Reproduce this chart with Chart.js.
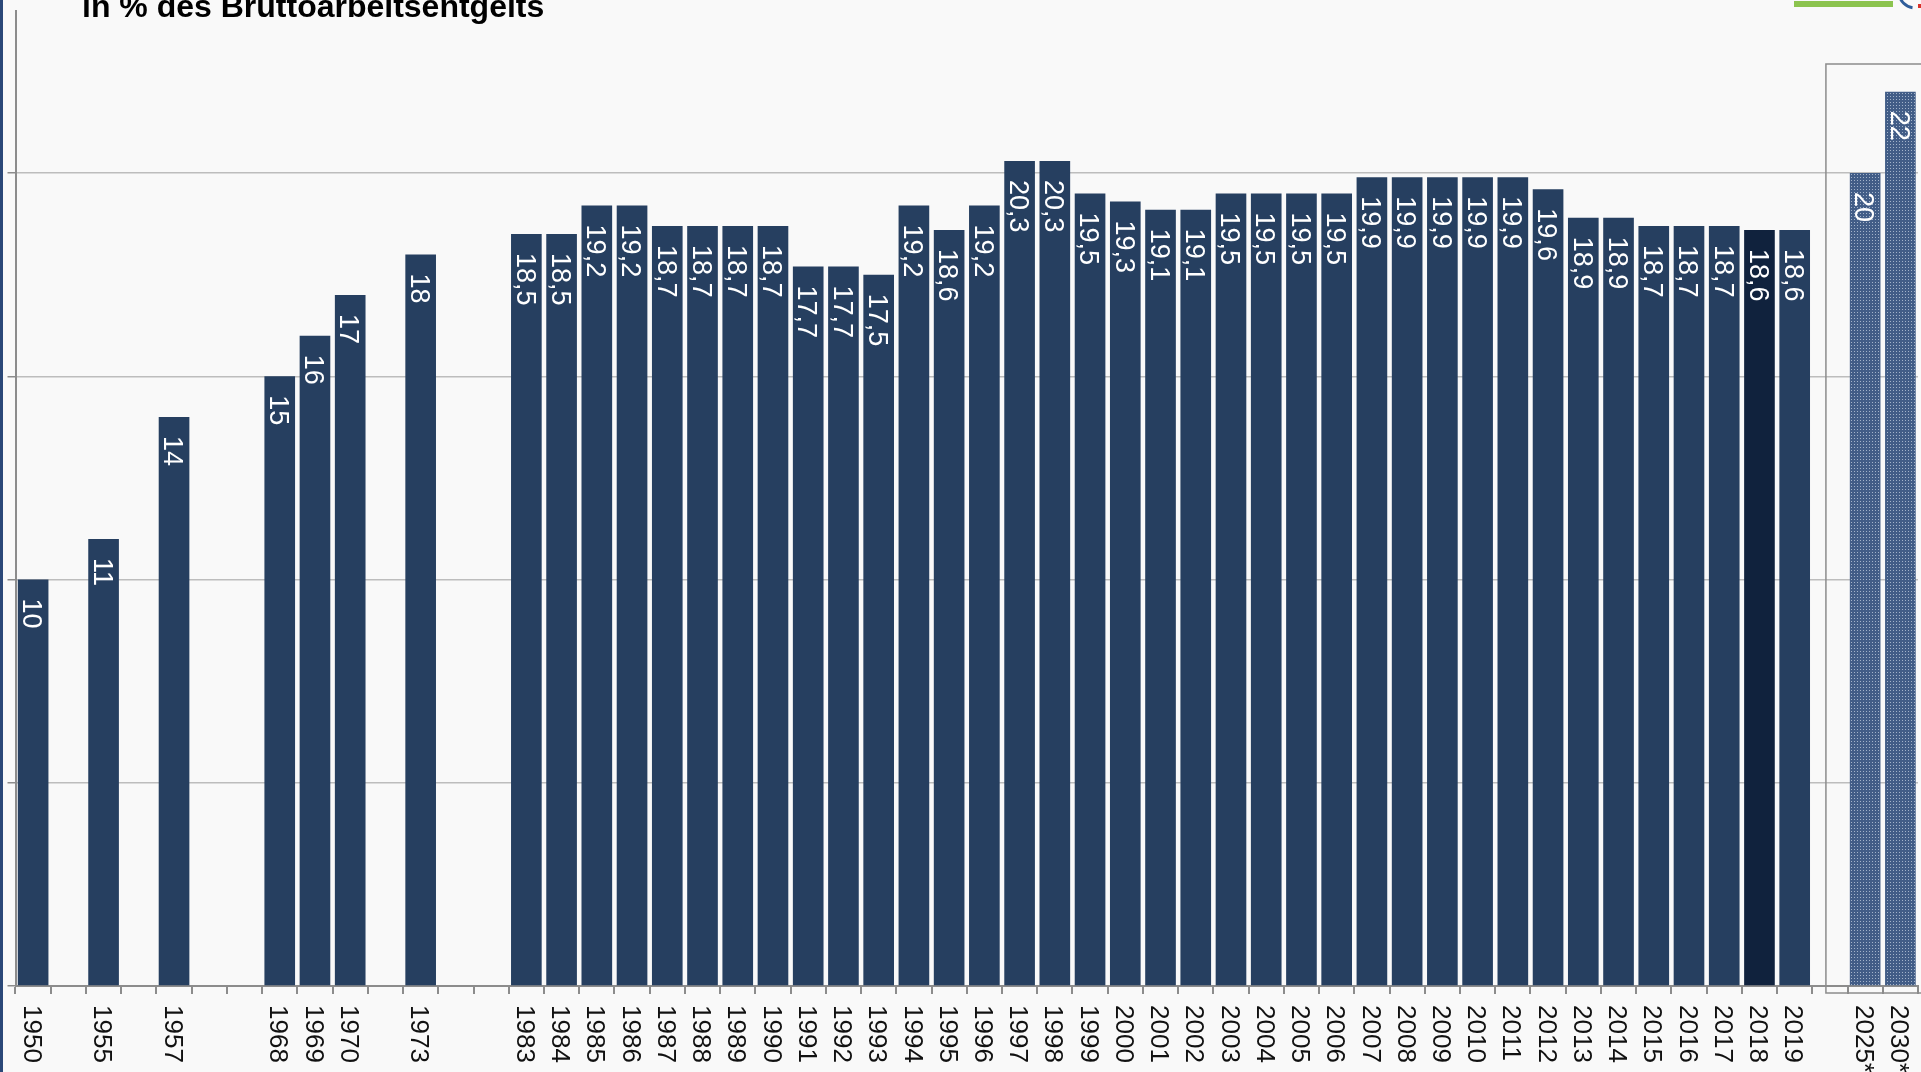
<!DOCTYPE html>
<html lang="de">
<head>
<meta charset="UTF-8">
<title>Beitragssatz Rentenversicherung</title>
<script src="https://cdn.jsdelivr.net/npm/chart.js"></script>
<style>
html, body { margin: 0; padding: 0; background: #f9f9f9; overflow: hidden; }
canvas { display: block; }
</style>
</head>
<body>
<canvas id="rateChart" width="1921" height="1072"></canvas>

<script>
// Jahre auf der Achse ('' = leerer Platz / Lücke)
const years = ['1950', '', '1955', '', '1957', '', '', '1968', '1969', '1970', '', '1973', '', '',
  '1983', '1984', '1985', '1986', '1987', '1988', '1989', '1990', '1991', '1992', '1993', '1994',
  '1995', '1996', '1997', '1998', '1999', '2000', '2001', '2002', '2003', '2004', '2005', '2006',
  '2007', '2008', '2009', '2010', '2011', '2012', '2013', '2014', '2015', '2016', '2017', '2018',
  '2019', '', '2025*', '2030*'];
// Beitragssatz in %
const rates = [10, null, 11, null, 14, null, null, 15, 16, 17, null, 18, null, null,
  18.5, 18.5, 19.2, 19.2, 18.7, 18.7, 18.7, 18.7, 17.7, 17.7, 17.5, 19.2,
  18.6, 19.2, 20.3, 20.3, 19.5, 19.3, 19.1, 19.1, 19.5, 19.5, 19.5, 19.5,
  19.9, 19.9, 19.9, 19.9, 19.9, 19.6, 18.9, 18.9, 18.7, 18.7, 18.7, 18.6,
  18.6, null, 20, 22];
const forecastYears = ['2025*', '2030*'];   // Prognose
const highlightYear = '2018';
const yGrid = [0, 5, 10, 15, 20];
const titleText = 'in % des Bruttoarbeitsentgelts';

const canvas = document.getElementById('rateChart');
const ctx = canvas.getContext('2d');

// gepunktetes Muster für die Prognose-Balken
function dotPattern() {
  const t = document.createElement('canvas');
  t.width = 3; t.height = 3;
  const g = t.getContext('2d');
  g.fillStyle = '#425d87';
  g.fillRect(0, 0, 3, 3);
  g.fillStyle = '#a3b3ca';
  g.fillRect(0, 0, 1, 1);
  return ctx.createPattern(t, 'repeat');
}
const forecastFill = dotPattern();

function fmt(v) {
  return String(v).replace('.', ',');
}

// Hintergrund, linker Rand, Logo-Reste oben rechts
const frame = {
  id: 'frame',
  beforeDraw(chart) {
    const c = chart.ctx;
    c.save();
    c.fillStyle = '#f9f9f9';
    c.fillRect(0, 0, chart.width, chart.height);
    c.fillStyle = '#2b4878';
    c.fillRect(0, 0, 3, chart.height);
    c.fillStyle = '#8cc44f';
    c.fillRect(1794, 1, 99, 6);
    c.strokeStyle = '#2f5d9a';
    c.lineWidth = 3;
    c.beginPath();
    c.arc(1915, -8, 16, Math.PI * 0.55, Math.PI * 0.95);
    c.stroke();
    c.fillStyle = '#d9322b';
    c.fillRect(1918, 4, 3, 4);
    c.restore();
  }
};

// Kasten um die Prognose
const forecastBox = {
  id: 'forecastBox',
  beforeDatasetsDraw(chart) {
    const x = chart.scales.x;
    const area = chart.chartArea;
    const gap = years.indexOf(forecastYears[0]) - 1;
    const left = x.getPixelForValue(gap) - 4;
    const c = chart.ctx;
    c.save();
    c.strokeStyle = '#8c8c8c';
    c.lineWidth = 1.5;
    c.strokeRect(left, 64, chart.width - left + 10, area.bottom + 7 - 64);
    c.restore();
  }
};

// Werte senkrecht in die Balken schreiben
const valueLabels = {
  id: 'valueLabels',
  afterDatasetsDraw(chart) {
    const meta = chart.getDatasetMeta(0);
    const c = chart.ctx;
    const size = 27;
    c.save();
    c.font = size + 'px "Liberation Sans", Arial, sans-serif';
    c.fillStyle = '#ffffff';
    c.textAlign = 'left';
    c.textBaseline = 'alphabetic';
    meta.data.forEach((bar, i) => {
      if (rates[i] === null) return;
      c.save();
      c.translate(bar.x - size * 0.36, bar.y + 19);
      c.rotate(Math.PI / 2);
      c.fillText(fmt(rates[i]), 0, 0);
      c.restore();
    });
    c.restore();
  }
};

// Jahreszahlen senkrecht unter der Achse, Titel oben
const yearLabels = {
  id: 'yearLabels',
  afterDraw(chart) {
    const x = chart.scales.x;
    const c = chart.ctx;
    const size = 26;
    c.save();
    c.font = size + 'px "Liberation Sans", Arial, sans-serif';
    c.fillStyle = '#111111';
    c.textBaseline = 'alphabetic';
    years.forEach((y, i) => {
      if (!y) return;
      c.save();
      c.translate(x.getPixelForValue(i) - size * 0.36, chart.chartArea.bottom + 19);
      c.rotate(Math.PI / 2);
      c.fillText(y, 0, 0);
      c.restore();
    });
    c.font = 'bold 32px "Liberation Sans", Arial, sans-serif';
    c.fillStyle = '#000000';
    c.fillText(titleText, 82, 17);
    c.restore();
  }
};

new Chart(ctx, {
  type: 'bar',
  data: {
    labels: years,
    datasets: [{
      data: rates,
      backgroundColor: (c) => {
        const y = years[c.dataIndex];
        if (forecastYears.includes(y)) return forecastFill;
        return y === highlightYear ? '#10223d' : '#263f60';
      },
      borderWidth: 0,
      categoryPercentage: 1,
      barPercentage: 0.87
    }]
  },
  options: {
    responsive: false,
    animation: false,
    layout: { padding: { top: 10.5, left: 7.5, right: 3, bottom: 78 } },
    plugins: { legend: { display: false }, tooltip: { enabled: false } },
    scales: {
      x: {
        ticks: { display: false },
        grid: { drawOnChartArea: false, drawTicks: true, tickLength: 8, color: '#8c8c8c', lineWidth: 2 },
        border: { color: '#8c8c8c', width: 2 }
      },
      y: {
        min: 0,
        max: 24,
        afterBuildTicks: (s) => { s.ticks = yGrid.map(v => ({ value: v })); },
        ticks: { display: false },
        grid: { color: '#bdbdbd', lineWidth: 1.5, tickLength: 8, tickColor: '#8c8c8c' },
        border: { color: '#8c8c8c', width: 2 }
      }
    }
  },
  plugins: [frame, forecastBox, valueLabels, yearLabels]
});
</script>
</body>
</html>
